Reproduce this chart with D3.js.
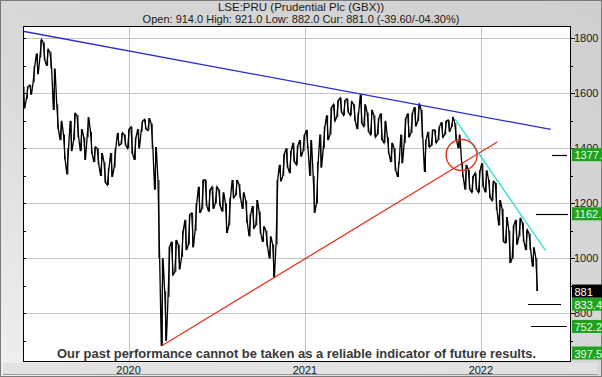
<!DOCTYPE html>
<html>
<head>
    <meta charset="utf-8">
    <script src="https://d3js.org/d3.v7.min.js"></script>
    <style>
        body { margin: 0; background: #fff; }
        svg { display: block; }
    </style>
</head>
<body>
    <div id="chart"></div>
<script>
    // weekly high / low, first week starting 2019-05-27
    const weekStart = "2019-05-27";
    const weekHigh = [
        1625,1625,1630,1700,1745,1795,1785,1760,1750,1690,
        1560,1500,1450,1400,1500,1527,1520,1470,1440,1514,
        1460,1405,1400,1383,1350,1330,1383,1400,1456,1456,
        1450,1470,1478,1440,1470,1500,1505,1510,1490,1405,
        1285,1000,880,1043,1060,1067,1050,1100,1140,1160,
        1165,1200,1260,1285,1285,1250,1260,1260,1250,1240,
        1200,1220,1285,1285,1270,1240,1210,1160,1190,1212,
        1170,1116,1100,1080,1050,1285,1340,1380,1400,1390,
        1420,1410,1430,1450,1467,1430,1300,1350,1450,1480,
        1520,1550,1560,1575,1583,1575,1580,1570,1560,1530,
        1597,1560,1530,1540,1520,1510,1527,1500,1440,1420,
        1400,1350,1450,1510,1527,1530,1550,1563,1540,1430,
        1460,1467,1467,1480,1495,1500,1503,1514,1490,1450,
        1350,1340,1321,1300,1310,1320,1346,1320,1285,1280,
        1274,1212,1180,1150,1100,1120,1140,1147,1130,1103,
        1090,1040,1000
    ];
    const weekLow = [
        1545,1580,1595,1640,1670,1730,1720,1700,1690,1540,
        1470,1430,1360,1305,1390,1430,1440,1390,1358,1440,
        1380,1350,1340,1300,1275,1267,1296,1330,1410,1415,
        1410,1400,1380,1358,1400,1460,1470,1465,1400,1250,
        1000,681,700,860,940,950,960,1005,1030,1050,
        1040,1100,1165,1180,1190,1170,1180,1200,1190,1170,
        1092,1120,1220,1230,1220,1180,1130,1080,1110,1120,
        1090,1060,1043,1000,929,1050,1280,1300,1330,1310,
        1350,1340,1370,1390,1400,1300,1165,1200,1330,1400,
        1430,1450,1500,1514,1530,1520,1530,1520,1500,1470,
        1490,1480,1460,1450,1441,1450,1430,1420,1380,1350,
        1320,1296,1346,1420,1440,1456,1480,1500,1440,1314,
        1405,1410,1420,1430,1440,1450,1460,1478,1430,1400,
        1296,1250,1250,1240,1250,1240,1260,1240,1220,1210,
        1176,1120,1060,1056,983,1000,1050,1080,1060,1030,
        1030,970,881
    ];

    const yTicks = [1800, 1600, 1400, 1200, 1000, 800];
    const years = ["2020-01-01", "2021-01-01", "2022-01-01"];
    const yearLabels = ["2020", "2021", "2022"];

    // trend lines: [date, price] pairs
    const blueLine = [["2019-05-27", 1826], ["2022-05-26", 1469]];
    const redLine = [["2020-03-10", 682], ["2022-02-04", 1423]];
    const cyanLine = [["2021-11-08", 1507], ["2022-05-15", 1029]];
    const circleAt = ["2021-11-22", 1376];

    const targets = [1377, 1162, 833.4, 752.2];
    const targetLabels = ["1377.", "1162.", "833.4", "752.2"];
    const lastPrice = 881;
    const lowTarget = "397.5";

    const W = 602, H = 377;
    const plot = {left: 23, right: 571, top: 26, bottom: 362};
    const parse = d3.timeParse("%Y-%m-%d");

    const x = d3.scaleTime()
        .domain([parse("2019-05-27"), parse("2022-07-07")])
        .range([plot.left, plot.right]);
    const y = d3.scaleLinear()
        .domain([623, 1845])
        .range([plot.bottom, plot.top]);

    const svg = d3.select("#chart").append("svg")
        .attr("width", W).attr("height", H)
        .style("font-family", "'Liberation Sans', Arial, sans-serif");

    const defs = svg.append("defs");
    const grad = defs.append("linearGradient").attr("id", "panel")
        .attr("x1", "100%").attr("y1", "0%").attr("x2", "0%").attr("y2", "100%");
    grad.append("stop").attr("offset", "0%").attr("stop-color", "#cfcfcf");
    grad.append("stop").attr("offset", "60%").attr("stop-color", "#dadada");
    grad.append("stop").attr("offset", "100%").attr("stop-color", "#f0f0f0");
    defs.append("clipPath").attr("id", "clip").append("rect")
        .attr("x", plot.left).attr("y", plot.top)
        .attr("width", plot.right - plot.left).attr("height", plot.bottom - plot.top);

    // frame
    svg.append("rect").attr("x", 0.5).attr("y", 0.5)
        .attr("width", W - 1).attr("height", H - 1)
        .attr("fill", "url(#panel)").attr("stroke", "#7a7a7a");
    svg.append("rect").attr("x", 3).attr("y", plot.bottom + 1)
        .attr("width", W - 8).attr("height", H - plot.bottom - 4)
        .attr("fill", "#e2e2e2");
    svg.append("line").attr("x1", 3).attr("x2", W - 4)
        .attr("y1", H - 2.5).attr("y2", H - 2.5).attr("stroke", "#9a9a9a");

    // plot background
    svg.append("rect")
        .attr("x", plot.left).attr("y", plot.top)
        .attr("width", plot.right - plot.left).attr("height", plot.bottom - plot.top)
        .attr("fill", "#fff");

    // grid
    svg.append("g").selectAll("line").data(yTicks).join("line")
        .attr("x1", plot.left).attr("x2", plot.right)
        .attr("y1", d => Math.round(y(d)) + 0.5).attr("y2", d => Math.round(y(d)) + 0.5)
        .attr("stroke", "#c4c4c4");
    svg.append("g").selectAll("line").data(years).join("line")
        .attr("x1", d => Math.round(x(parse(d))) + 0.5).attr("x2", d => Math.round(x(parse(d))) + 0.5)
        .attr("y1", plot.top).attr("y2", plot.bottom)
        .attr("stroke", "#c4c4c4");

    // ticks every 100
    const allTicks = d3.range(700, 1900, 100);
    svg.append("g").selectAll("line").data(allTicks).join("line")
        .attr("x1", plot.left).attr("x2", plot.left + 3)
        .attr("y1", d => Math.round(y(d)) + 0.5).attr("y2", d => Math.round(y(d)) + 0.5)
        .attr("stroke", "#000");
    svg.append("g").selectAll("line").data(allTicks).join("line")
        .attr("x1", plot.right).attr("x2", d => plot.right + (d % 200 === 0 ? 4 : 2))
        .attr("y1", d => Math.round(y(d)) + 0.5).attr("y2", d => Math.round(y(d)) + 0.5)
        .attr("stroke", "#000");

    // price: sawtooth through each week's high and low
    const weekDate = i => d3.timeDay.offset(parse(weekStart), 7 * i);
    const pts = [];
    weekHigh.forEach((hi, i) => {
        const lo = weekLow[i];
        const a = weekDate(i), b = d3.timeHour.offset(a, 84);
        if (i % 2 === 0) { pts.push([a, hi], [b, lo]); }
        else { pts.push([a, lo], [b, hi]); }
    });
    const line = d3.line().x(d => x(d[0])).y(d => y(d[1]));
    const g = svg.append("g").attr("clip-path", "url(#clip)");
    g.append("path").datum(pts)
        .attr("fill", "none").attr("stroke", "#000").attr("stroke-width", 1.3)
        .attr("stroke-linejoin", "miter")
        .attr("d", line);
    g.selectAll(".bar").data(weekHigh).join("line")
        .attr("x1", (d, i) => x(weekDate(i)) + 1).attr("x2", (d, i) => x(weekDate(i)) + 1)
        .attr("y1", d => y(d)).attr("y2", (d, i) => y(weekLow[i]))
        .attr("stroke", "#000").attr("stroke-width", 1);

    // trend lines
    const tl = d3.line().x(d => x(parse(d[0]))).y(d => y(d[1]));
    g.append("path").datum(blueLine).attr("d", tl)
        .attr("stroke", "#2a2ad0").attr("stroke-width", 1.3).attr("fill", "none");
    g.append("path").datum(redLine).attr("d", tl)
        .attr("stroke", "#e8321e").attr("stroke-width", 1.3).attr("fill", "none");
    g.append("path").datum(cyanLine).attr("d", tl)
        .attr("stroke", "#3ee0d8").attr("stroke-width", 1.5).attr("fill", "none");
    g.append("circle")
        .attr("cx", x(parse(circleAt[0]))).attr("cy", y(circleAt[1]))
        .attr("r", 15.5).attr("fill", "none")
        .attr("stroke", "#e8321e").attr("stroke-width", 1.4);

    // target dashes
    const dashFrom = [552, 536, 528, 531];
    const dashTo = [567, 568, 561, 567];
    svg.append("g").selectAll("line").data(targets).join("line")
        .attr("x1", (d, i) => dashFrom[i]).attr("x2", (d, i) => dashTo[i])
        .attr("y1", d => Math.round(y(d)) + 0.5).attr("y2", d => Math.round(y(d)) + 0.5)
        .attr("stroke", "#000").attr("stroke-width", 1.2);

    // plot border
    svg.append("rect")
        .attr("x", plot.left + 0.5).attr("y", plot.top + 0.5)
        .attr("width", plot.right - plot.left - 1).attr("height", plot.bottom - plot.top - 1)
        .attr("fill", "none").attr("stroke", "#000");

    // right axis labels
    svg.append("g").selectAll("text").data(yTicks).join("text")
        .attr("x", plot.right + 3).attr("y", d => y(d) + 4)
        .attr("font-size", 11).attr("fill", "#1a1a1a")
        .text(d => d);

    // target boxes (drawn over the axis labels, as in the source)
    const boxes = svg.append("g");
    const drawBox = (v, label, fill, textFill) => {
        const cy = Math.min(y(v), plot.bottom - 9);
        boxes.append("rect").attr("x", plot.right + 1).attr("y", cy - 6.5)
            .attr("width", W - plot.right).attr("height", 13).attr("fill", fill);
        boxes.append("text").attr("x", plot.right + 3.5).attr("y", cy + 4.5)
            .attr("font-size", 11).attr("fill", textFill).text(label);
    };
    targets.forEach((v, i) => drawBox(v, targetLabels[i], "#1ea21e", "#eafaea"));
    drawBox(lastPrice, String(lastPrice), "#000", "#fff");
    drawBox(397.5, lowTarget, "#1ea21e", "#eafaea");

    // year labels
    svg.append("g").selectAll("text").data(years).join("text")
        .attr("x", d => x(parse(d))).attr("y", 374)
        .attr("text-anchor", "middle").attr("font-size", 11).attr("fill", "#1a1a1a")
        .text((d, i) => yearLabels[i]);

    // titles
    svg.append("text").attr("x", W / 2).attr("y", 11)
        .attr("text-anchor", "middle").attr("font-size", 11.5).attr("fill", "#1a1a1a")
        .text("LSE:PRU (Prudential Plc (GBX))");
    svg.append("text").attr("x", W / 2).attr("y", 23)
        .attr("text-anchor", "middle").attr("font-size", 11).attr("fill", "#1a1a1a")
        .text("Open: 914.0 High: 921.0 Low: 882.0 Cur: 881.0 (-39.60/-04.30%)");

    // disclaimer
    svg.append("text").attr("x", 57).attr("y", 357.5)
        .attr("font-size", 13.5).attr("font-weight", "bold").attr("fill", "#383838")
        .style("font-family", "'Liberation Sans Narrow', 'Liberation Sans', Arial, sans-serif")
        .attr("textLength", 479).attr("lengthAdjust", "spacingAndGlyphs")
        .text("Our past performance cannot be taken as a reliable indicator of future results.");
</script>
</body>
</html>
